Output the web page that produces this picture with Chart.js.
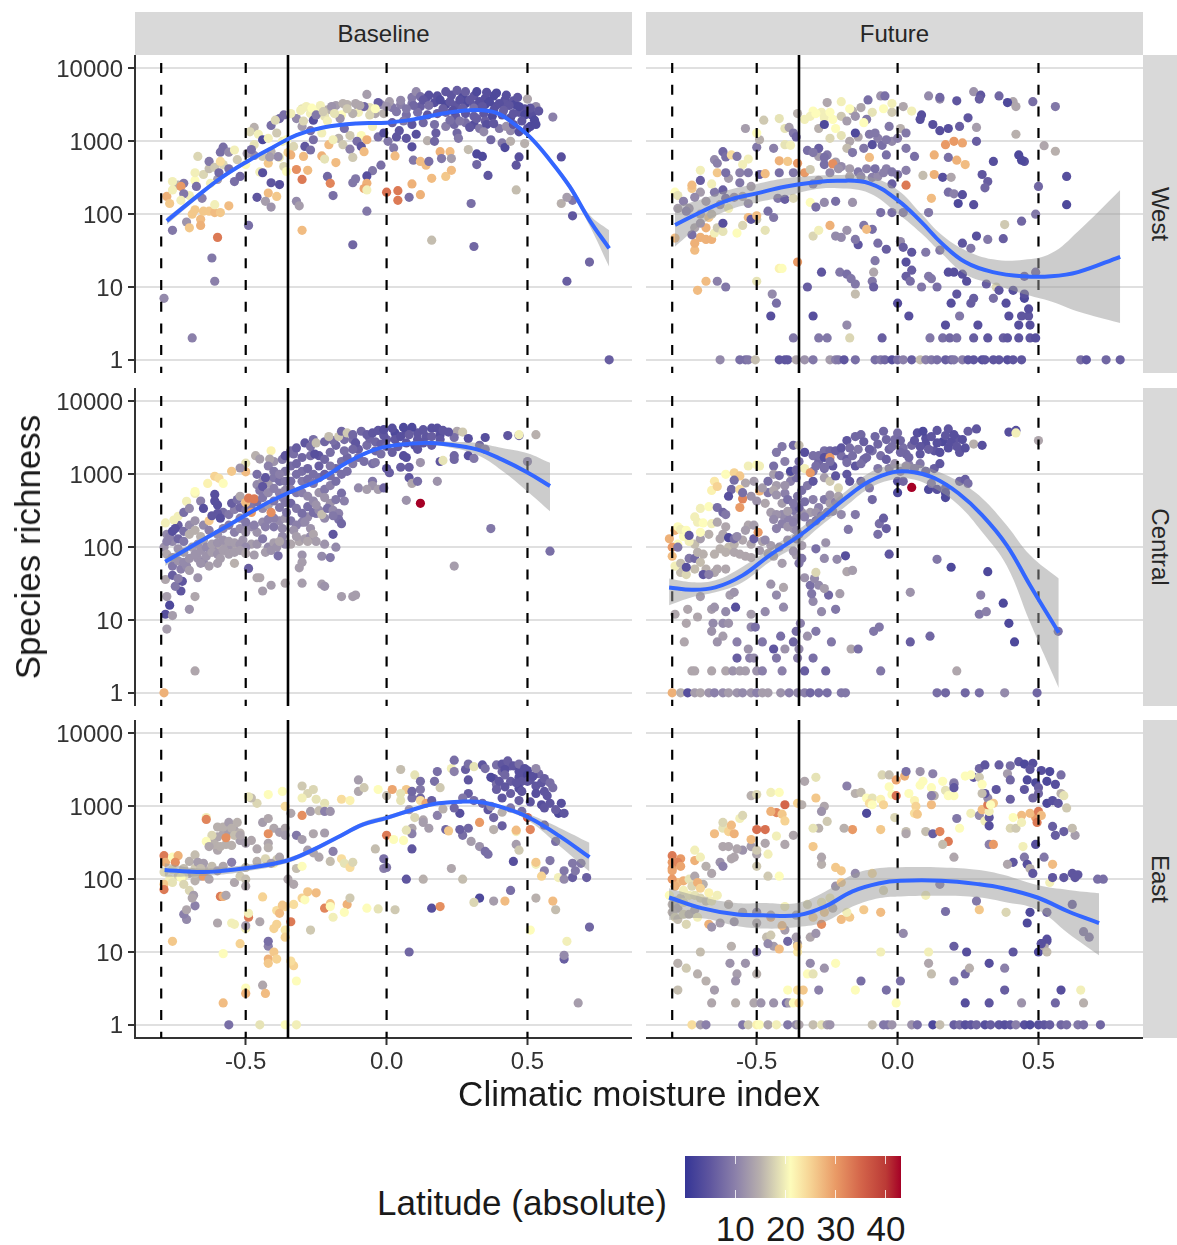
<!DOCTYPE html>
<html>
<head>
<meta charset="utf-8">
<title>Species richness</title>
<script src="https://cdn.jsdelivr.net/npm/chart.js@4"></script>
<style>
  html, body { margin: 0; padding: 0; background: #fff; }
  body { position: relative; width: 1177px; height: 1245px; overflow: hidden; font-family: "Liberation Sans", Arial, sans-serif; color: #1a1a1a; }
  canvas { position: absolute; }
  .strip { position: absolute; background: #d9d9d9; display: flex; align-items: center; justify-content: center; font-size: 24px; color: #262626; }
  .strip span.side { transform: rotate(90deg); white-space: nowrap; }
  .label { position: absolute; white-space: nowrap; font-size: 35px; line-height: 40px; }
</style>
</head>
<body>
<script>
// tick labels and reference lines
const yTickValues = [1, 10, 100, 1000, 10000];
const xTickValues = [-0.5, 0, 0.5];
const dashedLines = [-0.8, -0.5, 0, 0.5];
const solidLine = -0.35;
const legendTicks = [10, 20, 30, 40];
const columnNames = ["Baseline", "Future"];
const rowNames = ["West", "Central", "East"];

// points: [climatic moisture index, species richness, absolute latitude]
const westBaselineDense = [
[.09,4000,9],[.14,3900,5],[.18,4200,4],[.23,4300,5],[.27,4100,3],[.31,4200,5],[.35,3900,4],[.38,4200,3],[.42,3700,4],[.45,3600,5],
[.05,3200,10],[.09,3300,9],[.12,3000,6],[.17,3400,4],[.21,3200,3],[.245,3100,5],[.28,3300,3],[.31,3100,5],[.35,3200,3],[.385,3000,4],[.42,3300,5],[.455,3200,3],[.49,2800,4],[.52,2600,6],
[.07,2300,8],[.11,2500,8],[.145,2300,5],[.18,2400,6],[.21,2500,7],[.245,2200,5],[.28,2400,5],[.31,2200,6],[.345,2400,5],[.375,2200,3],[.41,2300,5],[.44,2100,4],[.47,2500,5],[.515,2300,4],
[.02,1800,6],[.06,1900,9],[.09,1700,5],[.13,1800,7],[.17,1700,8],[.21,1600,10],[.24,1700,7],[.28,1800,8],[.31,1700,4],[.35,1900,6],[.40,1500,9],[.44,1400,11],[.47,1350,4],[.50,1500,5],
[-.30,2800,19],[-.27,2400,20],[-.24,2600,21],[-.21,2700,15],[-.18,3100,13],[-.14,3200,15],[-.10,3000,12],[-.06,2900,19],[-.02,3200,11],[.02,2900,9],[-.22,2200,19],[-.16,2300,21],[-.10,2500,20],[-.04,2400,14],[-.27,1400,8],[-.23,1300,20],[-.17,1100,15],[-.13,1200,17],[-.09,1200,21],[-.05,1600,20],[-.15,1500,8],[-.30,1600,13],
[-.74,250,15],[-.70,180,20],[-.68,290,21],[-.65,350,18],[-.63,420,16],[-.60,300,13],[-.58,480,18],[-.56,420,8],[-.53,560,17],[-.50,480,21],[-.47,900,19],[-.44,620,17],[-.41,720,15],[-.38,600,20],[-.35,700,25],[-.37,1000,20],[-.33,850,18],[-.47,640,11]
];
const westBaselinePoints = [
[-.78,175,28],[-.77,140,26],[-.76,280,20],[-.76,215,20],[-.72,265,9],[-.73,240,30],[-.72,190,9],[-.73,155,20],[-.76,60,9],[-.71,78,12],[-.70,65,26],[-.69,100,26],[-.68,115,26],[-.66,85,27],[-.66,70,28],[-.65,110,26],[-.63,110,26],[-.61,105,27],[-.59,105,26],[-.56,130,27],[-.60,48,33],
[-.68,370,20],[-.67,620,18],[-.675,240,8],[-.655,165,10],[-.63,530,9],[-.625,265,20],[-.61,440,17],[-.595,370,7],[-.59,710,8],[-.58,830,8],[-.56,710,11],[-.54,760,20],[-.59,530,24],[-.54,280,8],[-.52,330,7],[-.61,135,20],[-.495,680,13],[-.48,770,8],[-.47,1550,15],[-.485,1350,18],[-.455,1250,20],[-.44,1050,3],[-.41,1650,8],[-.39,1300,17],[-.42,1100,20],[-.38,2050,7],[-.365,2300,8],[-.395,1950,18],
[-.42,500,26],[-.385,615,11],[-.415,610,13],[-.34,650,28],[-.365,450,18],[-.355,385,21],[-.32,410,31],[-.28,400,27],[-.30,300,33],[-.45,380,20],[-.44,370,4],[-.41,270,5],[-.38,255,4],[-.46,170,5],[-.42,195,27],[-.39,175,26],[-.43,150,13],[-.41,125,12],[-.32,150,11],[-.31,130,13],[-.30,60,27],[-.49,70,8],[-.79,7,11],[-.69,2,10],[-.62,25,9],[-.61,12,10],
[-.32,2050,11],[-.285,3000,20],[-.265,2850,21],[-.235,3100,20],[-.195,3000,12],[-.155,3300,15],[-.11,3300,14],[-.07,4400,13],[-.08,3000,7],[-.03,3400,6],[.01,3500,13],[.05,3650,11],[.105,4800,11],[.095,3100,7],[-.295,1900,18],[-.26,1950,4],[-.21,1900,20],[-.165,2050,12],[-.12,2400,15],[-.06,2300,18],[-.01,2400,15],[.035,2550,9],[-.34,2400,20],[-.305,2650,20],[-.25,2300,9],[-.225,2550,17],[-.185,2400,19],[-.14,2800,17],[-.095,3100,14],[-.04,2800,21],[0,3000,12],[.07,2800,9],
[-.355,1050,21],[-.29,850,5],[-.27,760,8],[-.26,1050,8],[-.205,900,27],[-.19,1050,20],[-.155,900,17],[-.13,780,10],[-.105,1000,8],[-.09,850,5],[-.08,720,27],[-.07,1050,28],[-.03,1150,8],[-.01,1300,4],[.005,1000,9],[.025,810,9],[.03,630,27],[.035,1150,5],[.045,1400,5],[.07,1100,5],[.09,840,4],[.105,1250,4],[.145,1020,15],[.175,1300,6],[.17,1000,7],[.19,720,28],[.225,720,27],[.23,580,13],[.195,580,9],[.095,550,9],[.12,530,27],[.14,470,27],[.15,530,8],[-.295,620,27],[-.23,630,28],[-.22,570,19],[-.18,510,27],[-.12,600,17],[-.02,470,8],[-.05,395,9],[-.07,335,4],[-.07,265,28],[-.08,225,29],[-.07,215,20],[-.11,305,9],[-.12,270,9],[-.21,330,7],[-.20,265,32],[-.19,180,8],[0,200,34],[.04,210,33],[.04,155,33],[.08,170,8],[.09,260,28],[.12,185,28],[.16,310,27],[.21,330,26],[.23,400,27],[-.07,110,9],[-.12,38,7],[.16,44,16],[.31,36,7],[.30,140,8],[.29,770,16],[.46,215,16],
[.12,4100,8],[.15,4300,4],[.21,4800,5],[.25,5000,6],[.28,4800,6],[.32,4800,3],[.355,4700,4],[.39,4600,3],[.425,4300,4],[.465,4000,5],[.50,3800,14],[.53,3000,11],[.54,2600,5],[.19,3700,3],[.225,3500,5],[.26,3700,4],[.295,3700,5],[.33,3500,4],[.365,3500,3],[.40,3300,4],[.435,3100,5],[.47,3000,3],[.51,2850,5],[.13,3700,5],[.15,3100,8],[.20,2800,6],[.235,2650,4],[.27,2850,6],[.31,2850,8],[.34,3000,5],[.38,2650,4],[.415,2650,6],[.45,2400,5],[.49,2300,3],[.525,1950,3],[.51,1600,3],[.53,1700,3],[.48,1900,5],[.225,1950,8],[.26,1900,9],[.295,1550,5],[.33,1500,9],[.355,1700,4],[.38,1750,5],[.32,2050,6],[.25,1300,7],[.255,1100,9],[.345,1350,11],[.37,1050,7],[.41,950,9],[.42,820,3],[.44,1000,15],[.49,930,15],[.47,610,4],[.46,470,5],[.36,340,5],[.32,480,7],[.32,670,3],[.34,620,3],[.425,1600,12],[.45,1700,5],[.59,2150,10],[.62,610,4],[.66,155,9],[.62,140,15],[.64,170,13],[.66,95,5],[.72,22,7],[.64,12,6],[.79,1,6]
];

const westFutureDense = [
[-.30,2600,21],[-.27,2500,20],[-.26,2100,20],[-.23,2000,21],[-.20,2200,17],[-.16,2600,15],[-.13,2900,14],[-.09,2500,19],[-.05,2800,21],[-.02,2500,17],[-.28,1500,15],[-.24,1100,18],[-.20,1200,19],[-.17,1000,14],[-.14,1150,14],[-.10,1250,9],[-.07,1100,10],[-.02,1000,11],
[-.17,420,13],[-.14,380,9],[-.11,420,10],[-.09,320,10],[-.07,330,11],[-.05,370,10],[-.17,330,14],[-.13,330,11],
[-.32,750,8],[-.28,620,13],[-.25,650,9],[-.22,520,13],[-.20,450,11],[-.24,370,11],[-.28,290,13],[-.30,260,10],
[-.70,200,13],[-.68,150,13],[-.74,120,12],[-.72,170,11],[-.65,200,9],[-.60,310,13],[-.56,270,9],[-.52,240,13]
];
const westFuturePoints = [
[-.63,1,11],[-.56,1,8],[-.54,1,8],[-.53,1,9],[-.505,1,16],[-.42,1,5],[-.40,1,5],[-.39,1,5],[-.36,1,14],[-.33,1,12],[-.30,1,9],[-.24,1,13],[-.22,1,10],[-.21,1,9],[-.19,1,5],[-.15,1,8],[-.08,1,8],[-.06,1,9],[-.045,1,7],[-.02,1,4],[0,1,8],[.02,1,10],[.05,1,6],[.08,1,16],[.10,1,10],[.12,1,9],[.14,1,8],[.17,1,6],[.19,1,7],[.20,1,9],[.23,1,10],[.25,1,5],[.27,1,5],[.30,1,4],[.31,1,5],[.34,1,5],[.36,1,5],[.39,1,4],[.41,1,5],[.44,1,5],[.65,1,8],[.67,1,5],[.74,1,7],[.79,1,6],
[-.37,2,9],[-.28,2,9],[-.25,2,9],[-.17,2,18],[-.055,2,6],[.115,2,9],[.16,2,8],[.185,2,7],[.21,2,8],[.27,2,6],[.32,2,5],[.375,2,6],[.39,2,5],[.43,2,5],[.47,2,5],[.49,2,4],
[-.18,3,11],[.17,3,4],[.285,3,4],[.43,3,4],[.47,3,4],[-.45,4,4],[-.30,4,4],[.04,4,4],[.22,4,9],[.395,4,4],[.44,4,5],[.465,4,5],[.465,5,4],[-.43,6,8],[0,6,4],[.19,6,4],[.26,6,6],[.27,7,6],[.34,7,8],[.385,6,4],[.45,7,3],[.45,8,4],
[-.32,10,6],[-.15,8,16],[-.09,12,9],[-.71,9,27],[-.68,12,27],[-.64,12,10],[-.61,10,9],[-.50,12,19],[-.445,8,11],[-.42,18,22],[-.41,18,21],[-.355,22,30],[-.27,16,5],[-.205,16,9],[-.18,15,8],[-.165,13,9],[-.15,11,9],[-.085,16,14],[-.085,10,6],[-.08,23,9],[.03,22,4],[.03,14,6],[.045,12,8],[.05,17,6],[.085,10,9],[.11,14,9],[.12,13,9],[.14,10,8],[.18,16,4],[.2,16,4],[.23,15,4],[.245,12,4],[.21,8,5],[.315,11,6],[.35,10,18],[.36,9,5],[.41,9,4],[.45,14,6],[.49,16,7],
[-.79,47,27],[-.72,32,27],[-.72,40,28],[-.70,48,28],[-.68,45,28],[-.66,45,28],[-.65,55,20],[-.64,65,17],[-.68,65,28],[-.72,65,14],[-.73,52,8],[-.70,75,12],[-.67,90,26],[-.62,58,19],[-.62,75,4],[-.57,55,21],[-.55,70,18],[-.50,85,17],[-.47,60,19],[-.53,90,27],[-.52,85,5],[-.46,110,8],[-.50,95,27],[-.44,90,9],[-.425,165,9],[-.40,160,6],[-.37,165,18],[-.31,145,21],[-.29,125,8],[-.26,145,11],[-.22,150,8],[-.16,145,12],
[-.79,200,21],[-.78,180,19],[-.76,150,10],[-.73,225,26],[-.73,250,27],[-.70,290,6],[-.66,260,20],[-.62,215,6],[-.61,165,7],[-.58,170,11],[-.78,120,13],[-.75,110,9],[-.70,100,14],[-.66,100,16],[-.63,135,12],[-.60,120,20],[-.55,175,14],[-.53,140,11],
[-.70,400,20],[-.65,560,11],[-.64,500,10],[-.62,720,7],[-.61,610,8],[-.59,650,24],[-.57,620,9],[-.55,480,20],[-.53,570,20],[-.64,370,26],[-.61,370,8],[-.56,370,10],[-.53,370,9],[-.50,830,9],[-.49,350,6],[-.47,360,27],[-.44,800,10],[-.42,370,8],[-.40,900,19],[-.38,880,20],[-.42,540,28],[-.39,530,26],[-.355,500,30],[-.37,370,9],[-.33,370,30],[-.31,410,17],[-.28,800,6],[-.26,480,8],[-.23,490,31],[-.21,420,12],[-.26,600,8],[-.30,700,9],
[-.54,1500,13],[-.49,1050,15],[-.50,1300,21],[-.475,1950,17],[-.42,2050,19],[-.40,1500,19],[-.385,1550,13],[-.37,1300,9],[-.36,1150,7],[-.355,2400,15],[-.33,2000,20],[-.31,2200,20],[-.29,2400,21],[-.25,3400,14],[-.24,2500,21],[-.20,3500,20],[-.17,2800,21],[-.15,2200,12],[-.11,2000,9],[-.105,3700,8],[-.06,4200,12],[-.045,4200,8],[-.02,3300,20],[.02,3000,14],[.05,2600,20],[.085,2300,4],
[-.26,1700,3],[-.22,1500,21],[-.18,1900,13],[-.15,1300,3],[-.12,1800,21],[-.08,1300,9],[-.03,1600,9],[.01,1500,15],[.03,1300,9],[.08,2000,4],[.125,1700,4],[.15,1400,4],[.18,1500,4],[.22,1600,6],[.28,1550,13],[.25,2100,5],[.15,3800,11],[.11,4200,11],[.15,4000,7],[.21,3600,5],[.27,4800,12],[.295,4300,5],[.29,3800,6],[.36,4200,7],[.41,3500,14],[.39,3400,3],[.42,3000,14],[.48,3500,8],[.56,3000,9],[.42,1250,15],
[-.18,800,16],[-.16,700,9],[-.12,800,9],[-.09,900,4],[-.055,880,8],[-.04,1050,9],[0,1100,10],[.03,800,9],[.06,620,8],[-.10,600,27],[-.04,650,8],[.13,650,28],[.17,900,30],[.2,1000,30],[.23,950,29],[.28,1000,6],[.21,550,28],[.24,480,27],[.18,600,8],[.34,530,4],[.43,650,3],[.45,530,4],[.44,550,3],[.52,870,14],[.56,730,15],[.30,350,5],[.32,280,6],[.31,230,7],[.60,330,4],
[-.08,420,8],[-.04,420,10],[-.02,380,9],[0,350,9],[.03,400,10],[.09,340,16],[.13,350,28],[.16,320,4],[.19,320,14],[-.02,260,6],[.03,250,33],[.18,200,8],[.2,190,10],[.23,185,4],[.215,140,3],[.27,135,4],[.12,165,27],[.6,135,3],[.50,240,7],[-.06,105,8],[-.02,105,8],[.02,105,9],[.11,105,9],[.38,72,17],[.44,80,7],[.49,100,9],
[-.30,50,18],[-.28,60,20],[-.22,50,11],[-.20,48,11],[-.18,60,12],[-.14,38,5],[-.12,70,9],[-.09,62,8],[-.07,40,8],[-.04,33,6],[.01,42,11],[.02,35,6],[.05,30,5],[.1,30,9],[.15,32,9],[-.24,70,28],[-.11,62,27],[-.15,45,9],[.23,40,5],[.26,34,9],[.28,50,4],[.32,45,9],[.375,46,6]
];

const centralBaselineDense = [
[-.78,150,11],[-.76,120,11],[-.74,95,12],[-.72,85,13],[-.69,100,13],[-.67,110,12],[-.65,125,14],[-.63,95,13],[-.61,95,12],[-.59,105,14],[-.57,100,13],[-.55,105,12],[-.53,100,14],[-.51,125,12],[-.48,110,13],[-.46,110,12],[-.44,130,9],[-.42,100,11],[-.40,115,13],[-.43,85,13],[-.41,90,12],[-.37,140,11],[-.34,110,14],[-.31,120,14],[-.29,130,13],[-.27,140,11],[-.76,55,9],[-.73,50,10],[-.71,55,11],[-.67,70,12],[-.65,62,11],[-.63,55,13],
[-.74,200,6],[-.72,165,8],[-.70,200,11],[-.68,230,12],[-.65,200,11],[-.63,170,10],[-.60,150,12],[-.58,180,10],[-.56,200,9],[-.54,160,10],[-.52,180,11],[-.50,160,12],[-.48,190,11],[-.46,160,12],[-.44,220,11],[-.42,240,10],[-.40,190,9],[-.38,230,11],[-.36,250,12],[-.34,230,9],[-.32,200,10],[-.30,220,10],[-.28,260,11],[-.25,290,9],
[-.58,300,8],[-.56,280,9],[-.54,330,10],[-.52,350,7],[-.50,320,9],[-.48,380,9],[-.46,420,8],[-.44,340,11],[-.42,380,13],[-.40,430,9],[-.37,480,10],[-.34,400,7],[-.32,340,9],[-.28,360,8],[-.26,300,8],[-.24,320,11],[-.22,250,11],[-.20,400,12],[-.18,450,9],[-.16,550,8],
[-.46,720,11],[-.44,800,12],[-.42,750,13],[-.40,900,9],[-.38,800,8],[-.36,1100,9],[-.34,1300,8],[-.32,1400,7],[-.30,800,9],[-.28,850,8],[-.26,750,9],[-.24,900,8],[-.22,1000,6],[-.20,950,8],[-.18,1200,7],[-.16,1500,8],[-.14,1700,7],[-.12,1400,9],[-.40,1500,12],[-.37,1600,9],[-.34,2100,8],[-.30,1700,7],[-.27,1800,8],[-.24,1800,5],[-.20,2000,8],[-.18,2500,7],[-.15,3000,8],[-.10,2200,6],[-.07,2500,8],[-.04,2100,7],[0,3000,6],[-.02,1900,8],[.02,2000,6],[.04,2400,6],[.07,2700,5],[.10,2500,4],[.14,3300,5],[.16,2500,6],[-.26,3000,8],[-.19,2900,8],[-.12,3000,8],[-.06,3100,7],[-.01,3400,5],[.03,3700,3],[.07,3900,4],[.11,3700,5],[.19,3500,4]
];
const centralBaselinePoints = [
[-.79,1,28],[-.68,2,14],[-.78,7.5,13],[-.785,12,4],[-.77,16,3],[-.76,11.5,13],[-.78,21,13],[-.68,21,14],[-.70,14,12],[-.73,25,5],[-.75,29,9],[-.785,36,14],[-.76,41,6],[-.725,34,5],[-.74,37,10],[-.67,38,12],
[-.785,215,20],[-.755,235,20],[-.74,265,20],[-.71,425,20],[-.68,545,20],[-.68,580,21],[-.635,750,22],[-.61,940,25],[-.595,880,24],[-.58,750,21],[-.55,1100,26],[-.50,1420,19],[-.50,1080,27],[-.465,1800,15],[-.41,2100,22],[-.45,1620,13],[-.415,1620,14],[-.52,1220,12],
[-.79,100,12],[-.78,120,10],[-.77,140,10],[-.76,165,4],[-.75,180,4],[-.74,130,7],[-.72,120,9],[-.70,150,15],[-.68,170,15],[-.66,140,15],[-.78,80,14],[-.76,72,12],[-.74,65,12],[-.72,62,11],[-.70,70,12],[-.70,48,13],[-.68,80,12],[-.66,90,12],[-.64,100,11],[-.62,110,13],[-.60,115,12],[-.58,125,12],[-.56,120,13],[-.54,115,13],[-.52,110,12],[-.50,100,11],[-.66,60,12],[-.64,75,12],[-.62,85,13],[-.60,80,12],[-.58,90,13],[-.56,80,13],[-.54,85,13],[-.52,90,13],[-.50,82,14],[-.47,78,13],[-.60,60,13],[-.59,70,13],[-.54,60,15],[-.49,51,6],[-.46,38,14],[-.45,38,14],[-.41,30,13],[-.44,25,13],[-.36,32,14],[-.30,32,13],[-.23,31,13],[-.22,29,12],[-.16,21,13],[-.12,21,13],[-.11,22,13],
[-.72,300,8],[-.70,340,11],[-.66,430,10],[-.65,340,4],[-.61,530,4],[-.60,380,4],[-.61,430,4],[-.60,290,5],[-.59,250,4],[-.63,230,26],[-.62,270,5],[-.55,400,6],[-.53,450,8],[-.52,500,14],[-.50,410,27],[-.49,470,33],[-.47,460,33],[-.45,600,9],[-.44,680,5],[-.43,900,5],[-.48,300,30],[-.52,250,10],[-.50,220,9],[-.47,200,10],[-.43,190,10],[-.40,250,10],[-.41,300,31],[-.38,350,9],[-.36,410,9],[-.37,180,11],[-.355,300,9],[-.33,170,12],[-.30,290,8],[-.29,220,11],[-.27,180,12],[-.26,150,14],[-.25,120,13],[-.28,120,14],[-.32,140,13],[-.36,110,11],[-.39,100,12],[-.38,120,14],[-.385,76,8],[-.30,78,12],[-.30,62,13],[-.31,52,13],
[-.46,1000,8],[-.42,1300,10],[-.40,1100,9],[-.38,1000,10],[-.36,800,9],[-.34,800,8],[-.32,1000,8],[-.30,1100,8],[-.28,1200,7],[-.26,1000,8],[-.24,1300,6],[-.22,1600,7],[-.20,1300,9],[-.44,480,9],[-.42,560,11],[-.40,640,10],[-.38,550,10],[-.36,600,11],[-.34,620,10],[-.32,560,9],[-.30,560,10],[-.28,500,11],[-.26,430,11],[-.24,560,12],[-.22,620,9],[-.20,700,10],[-.18,800,8],[-.16,1000,8],[-.14,1100,8],[-.22,480,12],[-.25,380,12],[-.23,280,16],[-.21,340,8],[-.19,320,11],[-.17,290,10],[-.15,430,10],[-.17,240,8],[-.19,270,9],[-.16,210,7],[-.19,150,5],[-.22,110,12],[-.18,100,11],[-.23,75,11],[-.20,72,9],
[-.36,1800,5],[-.33,1900,8],[-.32,2300,6],[-.29,2700,5],[-.27,2400,8],[-.255,1900,4],[-.25,2700,16],[-.22,2800,7],[-.205,3300,16],[-.17,3300,17],[-.16,3900,7],[-.14,3700,17],[-.12,3500,7],[-.11,2700,5],[-.09,3900,7],[-.07,3500,6],[-.05,3700,5],[-.03,4000,5],[-.01,4100,4],[.02,4300,4],[.06,4400,3],[.09,4400,3],[.13,4100,5],[.16,4300,4],[.18,4300,4],[-.15,2100,8],[-.12,2200,7],[-.10,1700,8],[-.08,1500,8],[-.04,2800,7],[-.02,2600,6],[0,2400,7],[.03,3000,5],[.05,3300,4],[.08,3500,6],[.11,3000,5],[.13,2700,5],[.16,3300,6],[.19,3000,5],[-.05,1400,8],[-.04,1450,9],[0,1200,5],[.01,1050,6],[.05,1250,6],[.06,1800,4],[.08,1250,6],[.07,1700,4],[.12,1450,12],[.11,2200,5],[.19,1500,5],[.2,1550,19],[.24,1800,7],[.24,1600,7],[.29,1800,4],[.31,1650,9],[-.05,800,9],[-.05,700,12],[-.03,620,13],[-.01,650,7],[-.10,650,11],[-.07,620,13],[.08,900,5],[.09,750,14],[.11,800,8],[.18,800,12],[.07,440,12],[.12,400,43],
[.25,3900,14],[.27,3800,17],[.35,3200,4],[.43,3400,5],[.47,3400,5],[.47,3500,20],[.53,3500,15],[.29,3100,4],[.33,2500,7],[.35,2200,9],[.24,3200,8],[.22,3800,5],[.2,4000,5],[.5,1500,10],[.37,180,9],[.24,55,13],[.58,88,8]
];

const centralFutureDense = [
[-.36,250,11],[-.34,300,12],[-.37,180,13],[-.39,250,10],[-.41,280,11],[-.37,320,9],[-.35,350,7],[-.33,420,8],[-.30,450,10],[-.28,350,10],[-.26,450,9],[-.24,400,13],[-.22,420,10],[-.20,280,11],[-.31,300,13],[-.29,300,12],
[-.30,1100,9],[-.28,1500,7],[-.26,2100,8],[-.24,2100,7],[-.23,1300,5],[-.20,1800,8],[-.18,1600,6],[-.16,1800,8],[-.14,2200,9],[-.12,1600,7],[-.09,2100,8],[-.07,2600,7],[-.06,1800,8],[-.03,2200,7],[-.01,3000,8],[.02,2300,8],[.03,1900,7],[.05,2500,7],[.08,1900,5],[.10,2600,4],[.10,3100,4],[.13,2100,5],[.16,2800,3],[.17,3400,5],[.18,2300,4],[.21,3100,5],[.23,3000,4],[.22,2000,5],[-.03,1200,10],[.04,1350,10],[.08,1400,9],[.13,1200,6],
[-.40,1500,10],[-.44,1300,8],[-.38,800,10],[-.36,900,8],[-.44,1000,13],[-.40,550,10],[-.43,700,13],[-.46,560,9],[-.47,400,14],[-.45,300,13],[-.43,280,12],[-.52,500,12],[-.54,760,14],[-.53,200,14],
[-.72,110,16],[-.70,130,13],[-.67,150,15],[-.63,130,14],[-.60,100,16],[-.58,110,15],[-.55,125,14],[-.52,110,14],[-.48,120,14],[-.45,105,13],[-.42,100,11],[-.39,125,12],[-.36,130,11],[-.77,45,16],[-.75,42,18],[-.72,50,16],[-.68,50,15],[-.65,45,14],[-.78,110,21],[-.76,140,21],[-.74,120,20],[-.70,160,21]
];
const centralFuturePoints = [
[-.80,1,28],[-.77,1,15],[-.745,1,4],[-.72,1,13],[-.70,1,14],[-.67,1,12],[-.65,1,10],[-.62,1,11],[-.60,1,13],[-.57,1,12],[-.55,1,11],[-.52,1,12],[-.50,1,10],[-.48,1,13],[-.46,1,13],[-.415,1,12],[-.385,1,10],[-.355,1,11],[-.33,1,10],[-.31,1,7],[-.28,1,8],[-.25,1,8],[-.20,1,9],[-.185,1,9],[.14,1,8],[.17,1,7],[.24,1,7],[.29,1,8],[.38,1,11],[.495,1,7],
[-.73,2,14],[-.72,2,14],[-.66,2,14],[-.61,2,14],[-.585,2,12],[-.56,2,13],[-.54,2,13],[-.50,2,12],[-.48,2,10],[-.41,2,10],[-.33,2,6],[-.255,2,7],[-.06,2,9],[.21,2,14],
[-.757,5,14],[-.79,12,14],[-.75,9,14],[-.745,14,14],[-.71,11,14],[-.66,14,13],[-.65,15,12],[-.61,13,11],[-.655,9,11],[-.62,9,11],[-.60,9,12],[-.66,7,12],[-.62,6,13],[-.64,5,12],[-.57,5,10],[-.53,4,12],[-.57,3,6],[-.525,3,10],[-.51,3,11],[-.52,12,13],[-.52,8,11],[-.505,8,8],[-.48,5,9],[-.47,13,11],[-.575,15,4],[-.595,22,13],[-.58,24,12],[-.70,21,13],[-.45,31,12],[-.405,28,14],[-.43,22,11],[-.405,15,11],[-.415,6,8],[-.44,4,5],[-.40,4,12],[-.43,3,9],[-.37,5,7],[-.36,7,8],[-.345,9,10],[-.35,4,11],[-.355,3,10],[-.30,3,8],[-.32,6,12],[-.29,7,9],[-.235,5,9],[-.27,13,11],[-.22,14,9],[-.205,23,13],[-.245,22,7],[-.30,18,11],[-.305,23,9],[-.31,30,8],[-.33,38,12],[-.295,37,11],[-.28,30,11],[-.26,27,13],[-.18,46,14],[-.16,48,13],[-.29,45,18],[-.165,4,14],[-.14,4,8],[-.085,7,9],[-.065,8,9],[.045,24,12],[.045,5,6],[.115,6,7],[.14,68,9],[.19,53,3],[.32,46,3],[.295,22,10],[.29,12,9],[.315,13,10],[.375,17,3],[.395,9,3],[.415,5,3],[.57,7,8],[-.03,80,5],[-.185,76,4],[-.215,68,11],[-.26,70,11],[-.255,115,12],[-.29,95,8],[-.175,175,9],[-.15,280,9],[-.07,150,8],[-.04,180,6],[-.065,210,8],[-.05,250,6],
[-.81,130,28],[-.80,100,30],[-.80,75,27],[-.79,170,28],[-.78,190,21],[-.77,175,20],[-.75,170,21],[-.74,145,5],[-.78,100,9],[-.79,55,20],[-.77,60,16],[-.75,53,4],[-.74,70,9],[-.72,70,7],[-.71,85,15],[-.70,62,16],[-.69,42,5],[-.69,80,15],[-.67,42,10],[-.65,80,15],[-.64,50,14],[-.61,50,14],[-.72,260,20],[-.71,220,20],[-.69,215,21],[-.66,210,20],[-.70,340,20],[-.67,360,21],[-.64,350,8],[-.62,300,7],[-.61,280,9],[-.64,220,14],[-.61,190,14],[-.62,150,14],[-.60,135,3],[-.58,130,8],[-.63,95,15],[-.61,85,15],[-.58,85,14],[-.56,80,14],[-.54,75,14],[-.52,72,14],[-.49,90,13],[-.46,82,14],[-.44,75,14],[-.41,60,13],[-.57,140,11],[-.54,170,13],[-.51,200,13],[-.51,130,6],[-.495,160,30],[-.47,125,11],
[-.66,600,22],[-.65,800,23],[-.64,680,25],[-.61,1000,21],[-.58,1050,25],[-.56,950,26],[-.53,1300,20],[-.50,1350,21],[-.49,1300,20],[-.51,800,13],[-.58,830,8],[-.59,620,7],[-.60,500,4],[-.56,620,24],[-.55,460,32],[-.56,350,30],[-.55,560,8],[-.50,430,12],[-.49,590,28],[-.48,650,13],[-.46,800,8],[-.44,600,14],[-.43,520,12],[-.41,400,13],[-.39,310,13],[-.40,700,12],[-.42,960,8],[-.38,1050,14],[-.44,240,11],[-.43,180,10],[-.41,210,10],[-.39,190,12],[-.37,220,10],[-.36,170,11],[-.35,150,10],[-.33,260,10],[-.31,210,10],[-.29,230,8],[-.27,270,9],[-.25,300,10],[-.23,310,11],[-.34,105,13],[-.36,78,13],[-.37,88,12],[-.35,60,9],[-.34,70,9],
[-.39,450,8],[-.37,400,9],[-.355,500,9],[-.34,600,8],[-.32,700,9],[-.30,800,5],[-.38,1100,3],[-.36,1150,7],[-.35,1500,8],[-.33,1200,20],[-.31,1050,30],[-.29,1300,8],[-.26,1200,7],[-.26,900,13],[-.24,800,17],[-.22,950,5],[-.21,650,18],[-.24,520,12],[-.21,500,14],[-.18,1000,5],[-.17,800,5],[-.15,1300,5],[-.13,800,7],[-.10,650,9],[-.09,450,7],
[-.43,2000,9],[-.41,2400,9],[-.37,2500,7],[-.35,2500,16],[-.33,2000,4],[-.30,1800,8],[-.28,1800,8],[-.26,1700,4],[-.24,1700,30],[-.22,2100,6],[-.20,2300,5],[-.18,2900,5],[-.17,2300,8],[-.15,3300,7],[-.13,3500,7],[-.12,2800,6],[-.10,2200,6],[-.08,3300,7],[-.05,3900,7],[-.04,3000,7],[-.02,2400,8],[0,3700,8],[.01,2900,7],[.01,2000,7],[.04,1700,7],[.06,2900,5],[.07,3700,4],[.08,2400,5],[.09,3900,3],[.11,2200,6],[.12,3300,5],[.14,2700,4],[.14,4000,5],[.15,2000,4],[.18,4200,5],[.19,2800,4],[.2,3500,4],[.21,2400,5],[.24,2300,4],[.25,3900,6],[.28,4200,5],[.27,2600,15],[.3,2500,4],
[-.26,1250,8],[-.24,1500,8],[-.18,1450,8],[-.13,1400,8],[-.11,1700,7],[-.07,1200,9],[-.04,1600,6],[-.01,1400,12],[.01,1100,10],[.03,1300,12],[.06,1200,9],[.10,1100,6],[.15,1400,5],[0,800,4],[.02,800,7],[.05,660,43],[.11,620,3],[.12,750,9],[.14,620,4],[.17,650,7],[.17,480,3],[.17,560,3],[0,560,3],[.22,800,7],[.24,850,6],[.25,750,8],
[.395,3800,4],[.42,4000,4],[.42,3700,20],[.50,2900,14]
];

const eastBaselineDense = [
[.38,2400,5],[.41,3000,7],[.44,3600,6],[.47,2500,4],[.49,2800,4],[.51,2300,5],[.53,1900,5],[.54,2800,7],[.55,2100,5],[.57,1400,5],[.44,2200,6],[.42,1850,5],[.39,2000,8],[.50,3100,4],[.48,2200,5],[.47,1750,4],
[-.62,330,15],[-.60,380,14],[-.58,420,14],[-.56,450,13],[-.54,470,14],[-.52,430,15],[-.60,250,14],[-.57,300,15],[-.52,340,13],[-.70,120,14],[-.68,140,17],[-.66,110,14],[-.64,130,15],[-.76,135,20],[-.74,110,18],[-.72,110,19]
];
const eastBaselinePoints = [
[-.79,210,33],[-.785,170,28],[-.76,200,21],[-.74,210,28],[-.75,170,31],[-.79,125,18],[-.77,100,20],[-.79,85,26],[-.79,72,33],[-.76,90,19],[-.73,105,21],[-.72,85,18],[-.70,70,18],[-.68,95,15],[-.685,60,13],[-.72,140,16],[-.70,175,15],[-.68,215,16],[-.67,170,13],[-.65,165,13],[-.65,110,30],[-.63,100,14],
[-.71,28,11],[-.72,33,10],[-.71,38,14],[-.68,43,10],[-.69,55,14],[-.59,58,33],[-.58,58,28],[-.57,60,14],[-.60,25,14],[-.55,25,20],[-.54,24,20],[-.76,14,26],[-.58,9.5,21],[-.52,13,25],[-.50,21,20],[-.50,23,13],[-.49,30,33],[-.49,34,20],[-.45,26,14],[-.44,57,25],[-.42,12,10],[-.42,8,28],[-.40,10,26],[-.42,14,8],[-.40,21,25],[-.39,24,25],[-.39,37,24],[-.36,42,25],[-.33,45,24],[-.37,44,26],[-.38,34,27],[-.34,26,33],[-.36,20,23],[-.36,16,25],
[-.50,3.2,21],[-.50,2.7,28],[-.44,3.5,14],[-.43,2.7,27],[-.58,2,27],[-.56,1,8],[-.45,1,19],[-.36,1,21],[-.32,1,20],[-.33,6.5,25],[-.32,4,21],[-.42,7,26],[-.39,8,25],[-.34,7.5,24],[-.30,55,25],[-.29,52,21],[-.22,40,32],[-.19,30,20],[-.20,46,26],[-.27,20,17],[-.28,67,26],[-.25,65,27],[-.20,42,21],[-.14,45,28],[-.13,55,17],[-.15,35,21],[-.07,40,21],[-.03,39,19],[.03,38,17],
[-.46,1100,18],[-.48,1300,16],[-.49,1350,19],[-.42,1450,21],[-.37,1600,21],[-.30,1900,17],[-.28,1500,18],[-.26,1700,18],[-.30,1300,20],[-.25,1250,19],[-.22,1100,19],[-.36,1000,24],[-.34,800,14],[-.30,750,31],[-.27,850,13],[-.24,870,16],[-.22,850,10],[-.20,850,12],[-.16,1250,24],[-.13,1200,22],[-.10,1600,14],[-.10,2300,13],[-.08,1800,17],[-.03,1700,21],[.0,1400,16],[.02,1700,29],[.07,1700,26],[.05,1500,19],[.05,1200,19],[.09,1300,8],[.12,1300,7],[.05,3200,16],[.10,2700,19],[.12,1700,9],
[-.64,700,20],[-.64,660,32],[-.62,400,18],[-.60,520,15],[-.58,520,15],[-.56,600,13],[-.55,500,15],[-.53,600,15],[-.54,400,16],[-.57,370,31],[-.52,400,14],[-.61,300,15],[-.64,330,21],[-.63,280,14],[-.59,280,15],[-.55,290,15],[-.50,310,13],[-.48,340,14],[-.46,260,14],[-.42,310,14],[-.42,270,15],[-.44,600,13],[-.42,680,14],[-.40,500,14],[-.42,420,31],[-.38,440,13],[-.36,500,14],[-.36,400,13],[-.32,400,9],[-.30,350,13],[-.26,420,14],[-.22,430,13],[-.28,250,13],[-.26,230,14],[-.24,200,14],[-.20,175,16],[-.19,240,10],[-.16,190,24],[-.15,165,19],[-.13,145,24],[-.12,170,18],[-.04,260,16],[-.01,190,8],[-.01,140,10],[0,145,9],
[-.40,165,20],[-.39,185,17],[-.38,200,14],[-.35,100,14],[-.33,85,14],[-.32,140,16],[-.30,150,21],[-.54,90,14],[-.52,110,17],[-.50,100,16],[-.50,80,14],[-.62,150,16],[-.60,130,13],[-.58,150,14],[-.55,170,10],[-.50,145,16],[-.46,175,15],[-.43,190,18],[-.41,165,13],[-.68,120,16],[-.66,140,16],
[.0,400,33],[.025,350,21],[.06,340,21],[.09,500,14],[.09,420,10],[.07,470,19],[.1,700,18],[.13,650,14],[.08,900,12],[.12,1200,24],[.14,1100,29],[.16,1200,6],[.18,750,10],[.2,920,15],[.15,500,13],[.13,600,13],[.21,480,7],[.22,460,26],[.27,400,8],[.26,480,6],[.29,500,7],[.3,330,13],[.33,280,12],[.35,240,8],[.36,220,8],[.38,480,15],[.38,700,7],[.33,600,30],[.41,540,6],[.41,830,15],[.46,450,20],[.46,300,13],[.45,175,4],[.47,250,17],[.51,480,32],[.46,470,27],[.6,330,8],[.56,550,6],
[.09,260,5],[.07,100,5],[.13,100,15],[.16,40,4],[.19,42,31],[.23,140,14],[.27,100,16],[.33,55,3],[.31,48,18],[.38,50,13],[.42,50,27],[.44,70,8],[.51,20,21],[.53,160,20],[.56,130,10],[.58,180,9],[.55,110,25],[.53,170,26],[.61,105,20],[.63,100,11],[.66,105,6],[.66,165,9],[.69,165,9],[.71,105,6],[.63,130,9],[.67,130,9],[.53,55,15],[.59,50,27],[.6,38,16],[.64,14,20],[.72,22,7],[.63,8,6],[.63,9,11],[.68,2,13],[.08,10,7],
[.12,2200,8],[.09,1600,7],[.17,2200,8],[.18,3000,8],[.19,1800,17],[.23,3300,20],[.24,4300,8],[.24,3000,10],[.28,3200,6],[.29,2300,5],[.29,1500,6],[.29,3800,8],[.31,3500,19],[.34,3700,5],[.35,3300,8],[.37,2500,3],[.39,3700,8],[.41,3800,5],[.43,4200,6],[.42,3200,4],[.45,3600,5],[.47,3000,4],[.47,3800,8],[.49,3300,4],[.5,2700,3],[.5,2200,5],[.52,2600,4],[.53,3300,11],[.56,2400,6],[.56,1600,5],[.58,2100,8],[.59,1800,8],[.39,1700,6],[.41,1300,5],[.4,2200,5],[.42,2700,7],[.44,1500,6],[.46,2100,5],[.47,1200,6],[.48,1600,5],[.51,1150,5],[.53,1500,4],[.55,1050,4],[.56,950,5],[.58,1100,5],[.61,800,3],[.63,800,5],[.62,1100,4],[.6,900,6],[.34,1100,7],[.36,900,5],[.31,1200,8],[.27,1300,9],[.37,1000,11],[.26,800,4],[.24,950,7],[.44,950,9],[.48,850,8],[.5,700,36]
];

const eastFutureDense = [
[-.80,45,15],[-.79,50,16],[-.78,40,14],[-.77,55,17],[-.76,48,19],[-.74,60,20],[-.72,60,19],[-.70,55,18],[-.68,50,17],[-.78,90,27],[-.76,95,28],[-.74,100,19],[-.72,110,14],[-.69,85,15],[-.80,140,30],[-.80,210,33],[-.77,190,30]
];
const eastFuturePoints = [
[-.73,1,24],[-.70,1,13],[-.68,1,10],[-.55,1,9],[-.53,1,17],[-.50,1,22],[-.49,1,21],[-.46,1,14],[-.43,1,20],[-.39,1,9],[-.36,1,11],[-.35,1,14],[-.30,1,16],[-.27,1,19],[-.25,1,13],[-.24,1,12],[-.09,1,16],[-.05,1,9],[-.035,1,9],[-.02,1,12],[.05,1,12],[.07,1,8],[.125,1,3],[.15,1,16],[.2,1,6],[.22,1,8],[.24,1,4],[.26,1,5],[.28,1,7],[.31,1,4],[.33,1,6],[.36,1,5],[.38,1,4],[.4,1,5],[.42,1,10],[.45,1,4],[.47,1,3],[.5,1,4],[.52,1,5],[.54,1,6],[.58,1,7],[.6,1,8],[.64,1,9],[.66,1,8],[.72,1,7],
[-.66,2,14],[-.575,2,15],[-.51,2,14],[-.485,2,12],[-.44,2,12],[-.395,2,8],[-.385,2,13],[-.37,2,21],[-.35,2,25],[-.005,2,21],[.24,2,4],[.325,2,5],[.44,2,12],[.56,2,7],[.66,2,15],[-.78,3,16],[-.65,3,13],[-.39,3,21],[-.355,3,24],[-.335,3,26],[-.28,3,10],[-.15,3,21],[-.04,3,8],[.38,3,6],[.58,3,4],[.65,3,20],
[-.68,4,15],[-.71,5,15],[-.57,5,13],[-.575,4,12],[-.50,5,15],[-.78,7,15],[-.75,6,17],[-.595,7,12],[-.54,7,12],[-.31,7,11],[-.32,5,21],[-.30,5,19],[-.26,6,12],[-.22,7,21],[-.13,4,8],[.01,4,8],[.11,7,14],[.12,5,16],[.2,4,9],[.24,5,7],[.255,6,15],[.325,7,4],[.38,6,10],[-.06,10,20],[.11,10,20],[.2,12,6],[.245,10,4],[.41,10,5],[.5,10,3],[.51,13,4],[.53,14,5],[.52,12,14],[.53,10,16],[-.70,10,16],[-.59,12,15],[-.50,10,9],[-.44,12,13],[-.465,16,16],[-.42,11,27],[-.355,10,23],[-.355,13,14],[-.31,16,14],
[-.81,60,21],[-.80,130,29],[-.80,170,30],[-.80,100,30],[-.78,170,32],[-.77,150,29],[-.79,80,28],[-.76,70,20],[-.73,80,18],[-.71,90,28],[-.70,75,25],[-.67,65,22],[-.66,50,20],[-.64,60,20],[-.60,45,15],[-.55,35,14],[-.50,35,10],[-.45,30,28],[-.40,42,20],[-.36,32,14],[-.32,45,18],[-.27,48,20],[-.24,55,20],[-.22,80,12],[-.20,90,26],[-.17,30,26],[-.20,28,27],[-.26,35,26],[-.15,120,11],[-.09,120,24],[-.05,70,18],[.1,60,20],[.15,85,10],[-.06,35,27],[.02,18,11],
[-.80,35,15],[-.79,30,18],[-.78,28,16],[-.76,33,18],[-.75,24,18],[-.74,33,15],[-.72,38,14],[-.71,30,20],[-.67,24,28],[-.66,22,12],[-.63,25,13],[-.58,26,12],[-.50,25,14],[-.45,32,14],[-.40,20,13],[-.30,30,25],[-.27,24,31],[-.18,35,20],[-.12,38,26],[-.23,40,15],[-.29,18,12],[-.46,13,11],[-.41,23,27],[-.45,17,17],[-.39,14,7],[-.355,12,25],[-.36,16,13],
[-.72,180,28],[-.72,250,20],[-.70,200,20],[-.68,150,15],[-.66,120,14],[-.63,170,12],[-.62,150,10],[-.58,200,14],[-.55,250,12],[-.50,150,17],[-.50,220,14],[-.46,110,17],[-.42,110,21],[-.65,420,27],[-.62,280,14],[-.60,280,14],[-.57,260,14],[-.52,280,13],[-.50,250,17],[-.59,190,14],
[-.62,500,19],[-.62,600,18],[-.60,450,25],[-.58,420,28],[-.59,550,27],[-.56,680,20],[-.55,750,18],[-.50,480,34],[-.47,480,34],[-.52,350,27],[-.47,310,14],[-.46,220,20],[-.40,300,14],[-.43,390,20],[-.37,400,14],[-.52,1400,15],[-.50,1450,18],[-.45,1550,20],[-.42,1550,21],[-.40,1050,35],[-.43,820,32],[-.45,850,28],[-.41,780,26],[-.40,630,25],[-.355,1100,25],[-.34,1050,15],[-.33,2200,14],[-.29,2500,19],[-.29,1300,26],[-.26,1000,14],[-.27,850,12],[-.25,620,17],[-.28,500,15],[-.30,500,19],[-.30,280,26],[-.27,160,15],[-.27,200,14],[-.22,145,26],[-.20,130,26],[-.18,1900,10],[-.15,1500,15],[-.13,1550,16],[-.11,1300,21],[-.09,1300,19],[-.10,1100,24],[-.06,1250,22],[-.05,1050,25],[-.09,1050,21],[-.06,480,26],[-.16,480,30],[-.19,500,15],[-.11,800,3],
[-.055,2700,18],[-.03,2700,16],[-.005,2300,29],[.025,2600,28],[-.03,1850,21],[-.02,1450,21],[-.005,1400,34],[.04,1500,21],[.06,1200,22],[.065,1000,25],[.06,800,24],[.07,780,26],[-.01,700,18],[.03,450,16],[.03,420,14],[.08,1950,21],[.09,2200,21],[.12,1800,21],[.13,1400,15],[.17,1650,19],[.18,1400,21],[.2,1400,21],[.12,1050,27],[.08,3000,12],[.125,2800,10],[.2,2100,10],[.16,2200,21],[.03,3000,8],
[.1,450,16],[.125,420,6],[.15,450,32],[.18,330,33],[.16,300,16],[.2,200,14],[.22,500,21],[.21,680,9],[.26,800,20],[.29,750,11],[.3,900,27],[.31,630,20],[.325,300,10],[.34,300,30],[.325,540,4],[.325,700,5],[.325,850,20],[.32,1050,33],[.32,1300,11],[.4,500,18],[.42,500,17],[.44,750,27],[.445,280,20],[.49,700,30],[.495,600,33],[.49,300,4],[.45,200,9],[.46,160,4],[.52,200,9],[.55,160,27],[.47,140,15],[.41,170,5],[.39,160,14],[.48,120,5],[.54,90,20],[.55,105,5],[.59,105,5],[.62,120,5],[.64,115,5],[.63,105,5],[.73,100,8],[.71,100,8],[.56,400,6],[.59,450,6],[.63,400,13],[.28,50,9],[.29,38,26],[.385,35,18],[.17,36,8],[.47,35,3],[.53,35,7],[.46,25,3],[.62,45,6],[.66,19,9],[.68,16,9],[.53,15,4],[.51,13,4],
[.12,1400,10],[.2,2000,9],[.2,1800,5],[.27,2500,5],[.29,2500,17],[.31,1500,5],[.35,1700,5],[.29,3300,7],[.31,3700,5],[.36,3700,6],[.4,3600,8],[.43,4100,5],[.45,3800,3],[.48,3900,4],[.47,3200,5],[.51,3100,4],[.54,3000,3],[.58,2700,8],[.39,2800,13],[.40,2300,7],[.46,2300,3],[.49,2100,3],[.5,1800,6],[.5,1500,7],[.53,2200,3],[.56,2000,4],[.58,1500,15],[.59,1400,19],[.53,1100,3],[.55,1200,4],[.57,1100,5],[.6,950,17],[.48,1300,7],[.45,1700,5],[.4,1250,6],[.3,1500,16],[.24,2600,21],[.26,2700,21],[.3,2000,21],[.34,1100,26],[.33,1050,21],[.47,800,27],[.5,850,33],[.51,750,27],[.41,700,21],[.44,600,20],[.55,530,6],[.62,500,16]
];

// fitted smooth: x, fit, upper and lower confidence band
const westBaselineX = [-.78,-.674,-.59,-.496,-.40,-.32,-.225,-.106,0,.095,.213,.32,.39,.45,.51,.58,.65,.72,.79];
const westBaselineFit = [81,174,310,525,843,1220,1550,1760,1800,2000,2450,2690,2450,1760,1130,550,238,83,34];
const westBaselineUpper = [90,188,330,555,890,1280,1620,1840,1880,2080,2540,2780,2540,1840,1190,590,265,98,60];
const westBaselineLower = [72,160,292,495,800,1160,1480,1680,1720,1920,2360,2600,2360,1680,1070,510,215,70,19];

const westFutureX = [-.79,-.696,-.6,-.5,-.4,-.307,-.21,-.1,0,.083,.156,.24,.338,.448,.545,.64,.79];
const westFutureFit = [71,108,156,193,238,270,288,265,156,79,40,22,16,14,14,16,26];
const westFutureUpper = [126,160,215,260,310,335,345,325,215,102,52,32,24,23.6,29,58,215];
const westFutureLower = [36,72,114,145,174,215,226,194,102,55,29,15,11,8,6.3,4.6,3.2];

const centralBaselineX = [-.786,-.675,-.556,-.437,-.343,-.236,-.142,-.047,.035,.13,.22,.32,.41,.5,.58];
const centralBaselineFit = [63,112,205,380,570,850,1440,2150,2520,2700,2570,2200,1590,1060,690];
const centralBaselineUpper = [72,122,220,400,600,900,1520,2260,2650,2870,2800,2700,2300,1950,1440];
const centralBaselineLower = [55,103,190,360,540,800,1360,2040,2400,2540,2350,1850,1120,580,310];

const centralFutureX = [-.811,-.73,-.647,-.55,-.453,-.355,-.27,-.185,-.1,-.015,.058,.13,.216,.30,.387,.47,.572];
const centralFutureFit = [28,26,28,41,78,138,250,470,800,1070,1070,890,550,276,107,30,6.7];
const centralFutureUpper = [37,33,35,54,96,171,309,580,1050,1350,1380,1150,800,470,200,78,37];
const centralFutureLower = [16,20.6,24,33,63,107,200,362,645,850,850,645,380,162,56,9.3,1.17];

const eastBaselineX = [-.788,-.674,-.58,-.496,-.355,-.26,-.177,-.083,0,.095,.177,.27,.343,.425,.508,.614,.72];
const eastBaselineFit = [134,125,130,142,179,254,370,565,693,905,1090,1160,1130,930,690,390,200];
const eastBaselineUpper = [165,140,145,158,195,272,395,610,745,960,1150,1220,1190,990,770,505,315];
const eastBaselineLower = [108,110,116,128,165,236,345,525,645,855,1035,1100,1070,870,620,285,127];

const eastFutureX = [-.811,-.696,-.574,-.477,-.355,-.258,-.16,-.063,.01,.156,.29,.375,.496,.606,.715];
const eastFutureFit = [56,40,33,32,32,42,68,88,95,95,85,75,56,36,25];
const eastFutureUpper = [75,57,47,47,47,67,115,142,146,145,134,115,83,71,64];
const eastFutureLower = [27.5,29,23,21,22,26,42,55,58,59,56,49,38,18,9];

// colour bar stops: [latitude, colour]
const latitudeStops = [[0,"#353596"],[5,"#5f569f"],[10,"#8b80aa"],[15,"#b8b0ad"],[21,"#fdfcbb"],[25,"#f6d394"],[30,"#e99a66"],[35,"#d4654a"],[40,"#bb3a36"],[43,"#a50026"]];
const latitudeMax = 43;

function hexToRgb(hex) {
  return [1, 3, 5].map(i => parseInt(hex.slice(i, i + 2), 16));
}

function latitudeColor(lat) {
  for (let i = 1; i < latitudeStops.length; i++) {
    if (lat <= latitudeStops[i][0]) {
      const a = latitudeStops[i - 1], b = latitudeStops[i];
      const t = (lat - a[0]) / (b[0] - a[0]);
      const ca = hexToRgb(a[1]), cb = hexToRgb(b[1]);
      const c = ca.map((v, k) => Math.round(v + (cb[k] - v) * t));
      return `rgb(${c[0]},${c[1]},${c[2]})`;
    }
  }
  return latitudeStops[latitudeStops.length - 1][1];
}

const xMin = -0.893, xMax = 0.871;
const yMin = 0.66, yMax = 15300;

const panels = [
  { row: 0, col: 0, points: westBaselineDense.concat(westBaselinePoints), x: westBaselineX, fit: westBaselineFit, upper: westBaselineUpper, lower: westBaselineLower },
  { row: 0, col: 1, points: westFutureDense.concat(westFuturePoints), x: westFutureX, fit: westFutureFit, upper: westFutureUpper, lower: westFutureLower },
  { row: 1, col: 0, points: centralBaselineDense.concat(centralBaselinePoints), x: centralBaselineX, fit: centralBaselineFit, upper: centralBaselineUpper, lower: centralBaselineLower },
  { row: 1, col: 1, points: centralFutureDense.concat(centralFuturePoints), x: centralFutureX, fit: centralFutureFit, upper: centralFutureUpper, lower: centralFutureLower },
  { row: 2, col: 0, points: eastBaselineDense.concat(eastBaselinePoints), x: eastBaselineX, fit: eastBaselineFit, upper: eastBaselineUpper, lower: eastBaselineLower },
  { row: 2, col: 1, points: eastFutureDense.concat(eastFuturePoints), x: eastFutureX, fit: eastFutureFit, upper: eastFutureUpper, lower: eastFutureLower }
];

const rowTops = [55, 388, 720];
const panelHeight = 318;
const colLefts = [135, 646];
const panelWidth = 497;
const leftAxisWidth = 135;
const bottomAxisHeight = 45;

function zip(xs, ys) {
  return xs.map((x, i) => ({ x: x, y: ys[i] }));
}

function drawPanel(panel) {
  const isLeft = panel.col === 0;
  const isBottom = panel.row === 2;
  const canvas = document.createElement("canvas");
  const left = isLeft ? 0 : colLefts[1];
  canvas.width = (isLeft ? leftAxisWidth : 0) + panelWidth;
  canvas.height = panelHeight + (isBottom ? bottomAxisHeight : 0);
  canvas.style.left = left + "px";
  canvas.style.top = rowTops[panel.row] + "px";
  document.body.appendChild(canvas);

  const datasets = [];
  // fit line on top, then band, then reference lines, points at the bottom
  datasets.push({
    data: zip(panel.x, panel.fit), showLine: true, pointRadius: 0, borderColor: "#3366ff", borderWidth: 4,
    tension: 0.4, fill: false, order: 1
  });
  datasets.push({
    data: zip(panel.x, panel.upper), showLine: true, pointRadius: 0, borderWidth: 0, borderColor: "transparent",
    tension: 0.4, backgroundColor: "rgba(153,153,153,0.5)", fill: "+1", order: 2
  });
  datasets.push({
    data: zip(panel.x, panel.lower), showLine: true, pointRadius: 0, borderWidth: 0, borderColor: "transparent",
    tension: 0.4, fill: false, order: 2
  });
  dashedLines.forEach(v => {
    datasets.push({
      data: [{ x: v, y: yMax }, { x: v, y: yMin }], showLine: true, pointRadius: 0, borderColor: "#000", borderWidth: 2.2,
      borderDash: [10, 11.7], borderDashOffset: 13.7, fill: false, order: 3
    });
  });
  datasets.push({
    data: [{ x: solidLine, y: yMax }, { x: solidLine, y: yMin }], showLine: true, pointRadius: 0, borderColor: "#000",
    borderWidth: 2.6, fill: false, order: 3
  });
  datasets.push({
    data: panel.points.map(p => ({ x: p[0], y: p[1] })), showLine: false, pointRadius: 4.6, pointBorderWidth: 0,
    pointBackgroundColor: panel.points.map(p => latitudeColor(p[2])), order: 4
  });

  new Chart(canvas, {
    type: "scatter",
    data: { datasets: datasets },
    options: {
      responsive: false,
      animation: false,
      layout: { padding: 0, autoPadding: false },
      plugins: { legend: { display: false }, tooltip: { enabled: false } },
      events: [],
      scales: {
        x: {
          type: "linear",
          min: xMin,
          max: xMax,
          display: isBottom,
          grid: { drawOnChartArea: false, tickLength: 7, tickColor: "#333", tickWidth: 2 },
          border: { display: true, color: "#333", width: 2 },
          ticks: {
            color: "#333", font: { family: "Liberation Sans", size: 24 }, padding: 3, maxRotation: 0,
            autoSkip: false, callback: v => v.toFixed(1)
          },
          afterBuildTicks: scale => { scale.ticks = xTickValues.map(v => ({ value: v })); },
          afterFit: scale => {
            scale.height = isBottom ? bottomAxisHeight : 0;
            scale.paddingLeft = 0;
            scale.paddingRight = 0;
          }
        },
        y: {
          type: "logarithmic",
          min: yMin,
          max: yMax,
          grid: { color: "#e0e0e0", lineWidth: 2, drawTicks: isLeft, tickLength: 7, tickColor: "#333", tickWidth: 2 },
          border: { display: isLeft, color: "#333", width: 2 },
          ticks: {
            display: isLeft, color: "#333", font: { family: "Liberation Sans", size: 24 }, padding: 5, labelOffset: 2,
            autoSkip: false, callback: v => String(v)
          },
          afterBuildTicks: scale => { scale.ticks = yTickValues.map(v => ({ value: v })); },
          afterFit: scale => {
            scale.width = isLeft ? leftAxisWidth : 0;
            scale.paddingTop = 0;
            scale.paddingBottom = 0;
          }
        }
      }
    }
  });
}

function addStrip(text, left, top, width, height, side) {
  const d = document.createElement("div");
  d.className = "strip";
  d.style.cssText = `left:${left}px;top:${top}px;width:${width}px;height:${height}px`;
  const s = document.createElement("span");
  if (side) s.className = "side";
  s.textContent = text;
  d.appendChild(s);
  document.body.appendChild(d);
}

function addLabel(text, left, top, transform) {
  const d = document.createElement("div");
  d.className = "label";
  d.textContent = text;
  d.style.left = left + "px";
  d.style.top = top + "px";
  if (transform) d.style.transform = transform;
  document.body.appendChild(d);
}

panels.forEach(drawPanel);

columnNames.forEach((name, i) => addStrip(name, colLefts[i], 12, panelWidth, 43, false));
rowNames.forEach((name, i) => addStrip(name, 1143, rowTops[i], 34, panelHeight, true));

addLabel("Climatic moisture index", 639, 1074, "translateX(-50%)");
addLabel("Species richness", 28, 527, "translateX(-50%) rotate(-90deg)");
addLabel("Latitude (absolute)", 377, 1183);

// colour bar
const barLeft = 685, barWidth = 216, barTop = 1156, barHeight = 42;
const bar = document.createElement("div");
const gradient = latitudeStops.map(s => `${s[1]} ${(s[0] / latitudeMax * 100).toFixed(1)}%`).join(",");
bar.style.cssText = `position:absolute;left:${barLeft}px;top:${barTop}px;width:${barWidth}px;height:${barHeight}px;background:linear-gradient(to right,${gradient})`;
document.body.appendChild(bar);
legendTicks.forEach(t => {
  const px = barLeft + t / latitudeMax * barWidth;
  [barTop, barTop + barHeight - 8].forEach(y => {
    const tick = document.createElement("div");
    tick.style.cssText = `position:absolute;left:${px - 0.5}px;top:${y}px;width:1px;height:8px;background:rgba(255,255,255,0.8)`;
    document.body.appendChild(tick);
  });
  addLabel(String(t), px, 1209, "translateX(-50%)");
});
</script>
</body>
</html>
